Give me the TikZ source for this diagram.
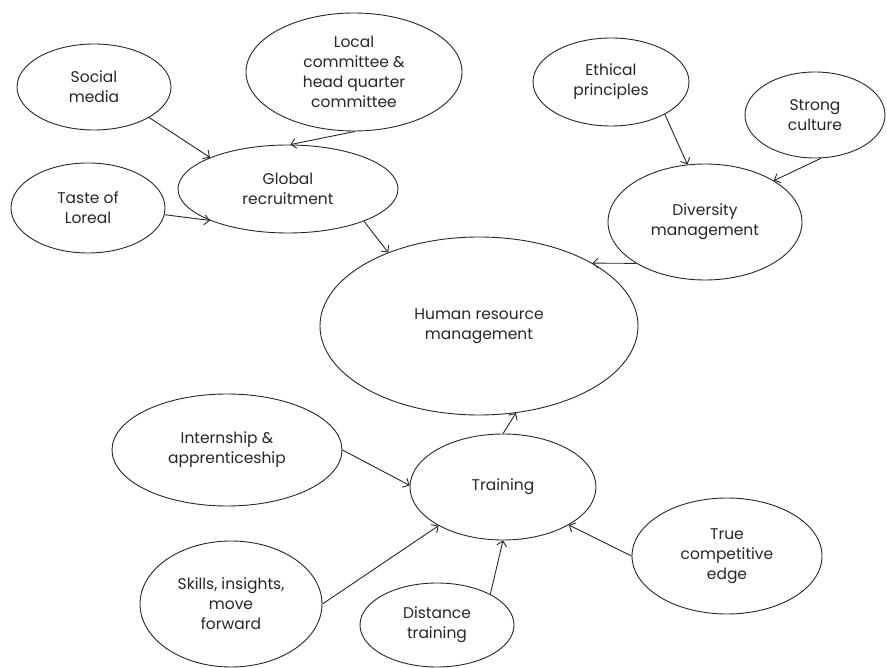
\documentclass[tikz,border=0pt]{standalone}
\usepackage{fontspec}
\setmainfont{Poppins}
\usetikzlibrary{shapes.geometric,arrows.meta}
\begin{document}
\begin{tikzpicture}[x=1pt,y=-1pt,
  bubble/.style={ellipse,draw=black!85,line width=0.9pt,inner sep=0pt,
    align=center,font=\fontsize{15.5}{20}\selectfont,text=black!85},
  link/.style={draw=black!85,line width=0.9pt,
    -{Straight Barb[length=5pt,width=10pt,line width=0.9pt]}}]
  \useasboundingbox (0,0) rectangle (887,668);
  % ellipses: centre, then full width and height
  \node[bubble,minimum width=154pt,minimum height=86pt]  (soc) at (94,87)   {Social\\media};
  \node[bubble,minimum width=216pt,minimum height=118pt] (loc) at (354,72)  {Local\\committee \&\\head quarter\\committee};
  \node[bubble,minimum width=220pt,minimum height=88pt]  (glo) at (288,189) {Global\\recruitment};
  \node[bubble,minimum width=154pt,minimum height=90pt]  (tas) at (88,208)  {Taste of\\Loreal};
  \node[bubble,minimum width=156pt,minimum height=88pt]  (eth) at (611,82)  {Ethical\\principles};
  \node[bubble,minimum width=140pt,minimum height=86pt]  (str) at (815,115) {Strong\\culture};
  \node[bubble,minimum width=194pt,minimum height=116pt] (div) at (705,222) {Diversity\\management};
  \node[bubble,minimum width=318pt,minimum height=178pt] (hrm) at (479,326) {Human resource\\management};
  \node[bubble,minimum width=230pt,minimum height=112pt] (int) at (227,450) {Internship \&\\apprenticeship};
  \node[bubble,minimum width=186pt,minimum height=106pt] (tra) at (503,487) {Training};
  \node[bubble,minimum width=182pt,minimum height=126pt] (ski) at (231,604) {Skills, insights,\\move\\forward};
  \node[bubble,minimum width=154pt,minimum height=84pt]  (dis) at (437,625) {Distance\\training};
  \node[bubble,minimum width=190pt,minimum height=116pt] (tru) at (727,556) {True\\competitive\\edge};
  % connectors
  \draw[link] (soc.331) -- (glo.158);
  \draw[link] (loc.271) -- (glo.87);
  \draw[link] (tas.355) -- (glo.202);
  \draw[link] (glo.337) -- (hrm.141);
  \draw[link] (eth.329) -- (div.107);
  \draw[link] (str.278) -- (div.31);
  \draw[link] (div.211) -- (hrm.29);
  \draw[link] (int.0)   -- (tra.179);
  \draw[link] (ski.0)   -- (tra.211);
  \draw[link] (dis.30)  -- (tra.270);
  \draw[link] (tru.180) -- (tra.330);
  \draw[link] (tra.90)  -- (hrm.293);
\end{tikzpicture}
\end{document}
